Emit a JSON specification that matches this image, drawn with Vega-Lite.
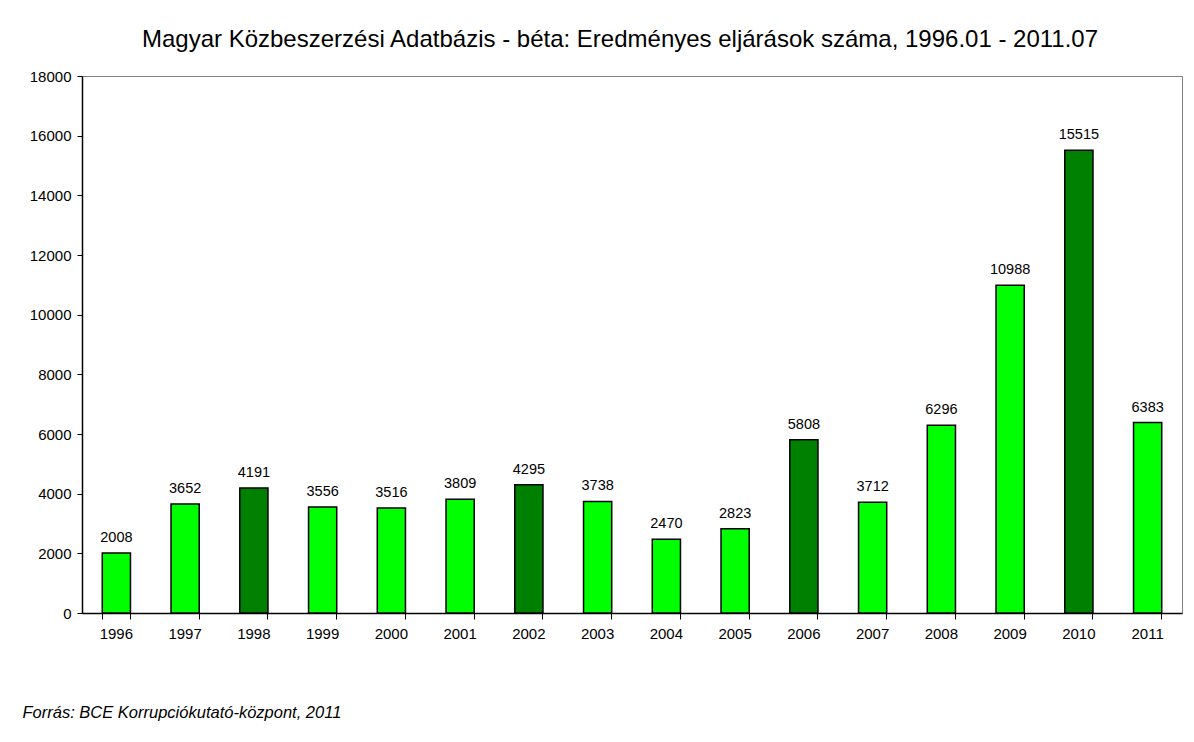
{
  "$schema": "https://vega.github.io/schema/vega-lite/v6.json",
  "autosize": {"type": "none"},
  "padding": {"left": 82, "top": 76, "right": 12, "bottom": 129},
  "width": 1100,
  "height": 537,
  "background": "white",
  "title": {
    "text": "Magyar Közbeszerzési Adatbázis - béta: Eredményes eljárások száma, 1996.01 - 2011.07",
    "font": "Liberation Sans",
    "fontSize": 24,
    "fontWeight": "normal",
    "color": "black",
    "anchor": "middle",
    "baseline": "alphabetic",
    "dx": -12,
    "dy": 30,
    "offset": 28
  },
  "config": {
    "view": {"stroke": "#808080", "strokeWidth": 1},
    "font": "Liberation Sans"
  },
  "data": {
    "values": [
      {"year": "1996", "count": 2008, "type": "normal"},
      {"year": "1997", "count": 3652, "type": "normal"},
      {"year": "1998", "count": 4191, "type": "election"},
      {"year": "1999", "count": 3556, "type": "normal"},
      {"year": "2000", "count": 3516, "type": "normal"},
      {"year": "2001", "count": 3809, "type": "normal"},
      {"year": "2002", "count": 4295, "type": "election"},
      {"year": "2003", "count": 3738, "type": "normal"},
      {"year": "2004", "count": 2470, "type": "normal"},
      {"year": "2005", "count": 2823, "type": "normal"},
      {"year": "2006", "count": 5808, "type": "election"},
      {"year": "2007", "count": 3712, "type": "normal"},
      {"year": "2008", "count": 6296, "type": "normal"},
      {"year": "2009", "count": 10988, "type": "normal"},
      {"year": "2010", "count": 15515, "type": "election"},
      {"year": "2011", "count": 6383, "type": "normal"}
    ]
  },
  "encoding": {
    "x": {
      "field": "year",
      "type": "nominal",
      "sort": null,
      "scale": {"paddingInner": 0.59, "paddingOuter": 0.295},
      "axis": {
        "title": "Forrás: BCE Korrupciókutató-központ, 2011",
        "titleFont": "Liberation Sans",
        "titleFontSize": 16.5,
        "titleFontStyle": "italic",
        "titleFontWeight": "normal",
        "titleColor": "black",
        "titleAnchor": "start",
        "titleAlign": "left",
        "titleBaseline": "alphabetic",
        "titleX": -60,
        "titleY": 104,
        "labelAngle": 0,
        "labelFontSize": 15,
        "labelColor": "black",
        "labelPadding": 7,
        "bandPosition": 1,
        "tickExtra": true,
        "tickSize": 6,
        "tickColor": "black",
        "domainColor": "black",
        "domainWidth": 1.5
      }
    },
    "y": {
      "field": "count",
      "type": "quantitative",
      "scale": {"domain": [0, 18000], "nice": false},
      "axis": {
        "title": null,
        "format": "d",
        "values": [0, 2000, 4000, 6000, 8000, 10000, 12000, 14000, 16000, 18000],
        "grid": false,
        "labelFontSize": 15,
        "labelColor": "black",
        "labelPadding": 6,
        "tickSize": 5,
        "tickColor": "black",
        "domainColor": "black",
        "domainWidth": 1.5
      }
    }
  },
  "layer": [
    {
      "mark": {"type": "bar", "stroke": "black", "strokeWidth": 1.5},
      "encoding": {
        "color": {
          "field": "type",
          "type": "nominal",
          "scale": {"domain": ["normal", "election"], "range": ["#00FF00", "#008000"]},
          "legend": null
        }
      }
    },
    {
      "mark": {"type": "text", "baseline": "bottom", "dy": -8, "fontSize": 14.5, "color": "black"},
      "encoding": {
        "text": {"field": "count", "type": "quantitative", "format": "d"}
      }
    }
  ]
}
